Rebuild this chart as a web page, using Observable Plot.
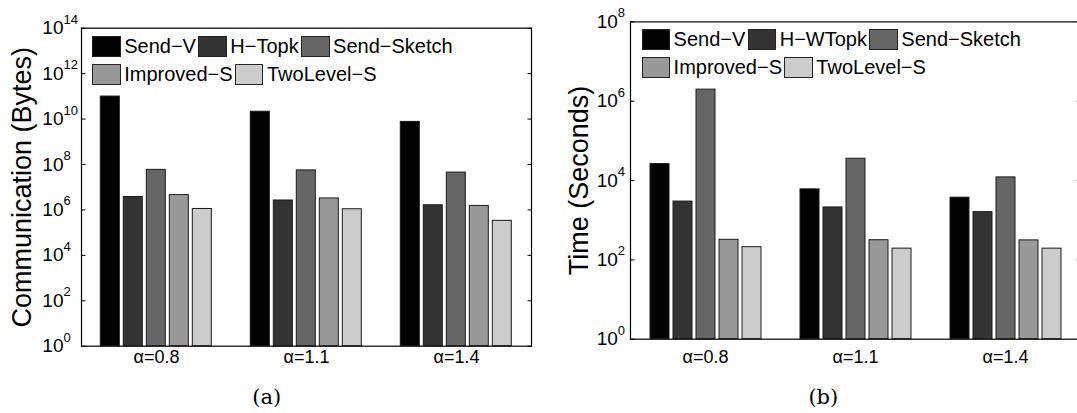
<!DOCTYPE html>
<html><head><meta charset="utf-8">
<script src="https://cdn.jsdelivr.net/npm/d3@7"></script>
<script src="https://cdn.jsdelivr.net/npm/@observablehq/plot@0.6"></script>
<style>
body{margin:0;background:#fff;overflow:hidden;}
#fig{position:relative;width:1077px;height:413px;overflow:hidden;font-family:"Liberation Sans",Arial,sans-serif;background:#fff;}
.panel{position:absolute;top:0;}
.panel svg{max-width:none !important;}
.legend{position:absolute;font-size:20px;color:#000;}
.row{display:flex;align-items:center;height:28px;white-space:nowrap;}
.sw{width:28.4px;height:21.3px;box-sizing:border-box;border:1px solid #222;margin-right:3.5px;flex:none;}
.lbl{margin-right:2.5px;line-height:21px;}
.cap{position:absolute;font-family:"DejaVu Serif",serif;font-size:21px;line-height:1;transform:translateX(-50%);white-space:nowrap;}
</style></head><body><div id="fig"></div>
<script>
// ---- data ----
const groups = ["α=0.8", "α=1.1", "α=1.4"];
const methodsA = ["Send−V", "H−Topk", "Send−Sketch", "Improved−S", "TwoLevel−S"];
const methodsB = ["Send−V", "H−WTopk", "Send−Sketch", "Improved−S", "TwoLevel−S"];
const grays = ["#000000", "#333333", "#666666", "#999999", "#cccccc"];

// (a) Communication (Bytes), one value per group
const commSendV      = [9.8e10, 2.1e10, 7.5e9];
const commHTopk      = [3.7e6, 2.6e6, 1.6e6];
const commSendSketch = [5.8e7, 5.5e7, 4.4e7];
const commImproved   = [4.5e6, 3.2e6, 1.5e6];
const commTwoLevel   = [1.1e6, 1.07e6, 3.3e5];

// (b) Time (Seconds)
const timeSendV      = [2.6e4, 6.0e3, 3.7e3];
const timeHWTopk     = [2.95e3, 2.1e3, 1.6e3];
const timeSendSketch = [1.96e6, 3.55e4, 1.2e4];
const timeImproved   = [321, 313, 310];
const timeTwoLevel   = [209, 192, 192];

// tick labels (exponents of 10)
const expA = [0, 2, 4, 6, 8, 10, 12, 14];
const expB = [0, 2, 4, 6, 8];

function rows(methods, series) {
  const out = [];
  groups.forEach((g, gi) => methods.forEach((m, mi) => out.push({g, m, v: series[mi][gi]})));
  return out;
}
const dataA = rows(methodsA, [commSendV, commHTopk, commSendSketch, commImproved, commTwoLevel]);
const dataB = rows(methodsB, [timeSendV, timeHWTopk, timeSendSketch, timeImproved, timeTwoLevel]);

function makePlot(cfg) {
  const yt = cfg.exps.map(e => 10 ** e);
  return Plot.plot({
    width: cfg.width, height: cfg.height,
    marginLeft: cfg.ml, marginRight: cfg.mr, marginTop: cfg.mt, marginBottom: cfg.mb,
    style: {fontFamily: "'Liberation Sans', Arial, sans-serif", background: "transparent", color: "#000", overflow: "visible", maxWidth: "none"},
    fx: {domain: groups, padding: 0, axis: null, label: null},
    x: {domain: cfg.methods, paddingInner: 0.194, paddingOuter: 0.812, axis: null},
    y: {type: "log", domain: [1, yt[yt.length - 1]], axis: null},
    color: {domain: cfg.methods, range: grays},
    marks: [
      Plot.barY(cfg.data, {fx: "g", x: "m", y1: 1, y2: "v", fill: "m", stroke: "#1a1a1a", strokeWidth: 1}),
      Plot.frame({facet: "super", stroke: "#000", strokeWidth: 1.2}),
      Plot.axisY(yt, {anchor: "left", tickSize: -4.5, tickFormat: () => "", label: null}),
      Plot.axisY(yt, {anchor: "right", tickSize: -4.5, tickFormat: () => "", label: null}),
      Plot.axisY(yt, {anchor: "left", tickSize: 0, tickPadding: cfg.tp, tickFormat: () => "10", fontSize: 19, label: null}),
      Plot.axisY(yt, {anchor: "left", tickSize: 0, tickPadding: cfg.tp, textAnchor: "start", dy: -8.7,
                      tickFormat: d => String(Math.round(Math.log10(d))), fontSize: 13, label: null}),
      Plot.axisY([], {anchor: "left", tickSize: 0, label: cfg.ylabel, labelAnchor: "center", labelArrow: "none",
                      labelOffset: cfg.lo, fontSize: 27}),
      Plot.axisFx({anchor: "bottom", tickSize: 0, tickPadding: cfg.xp, fontSize: 18, label: null})
    ]
  });
}

const fig = document.getElementById("fig");

function addPanel(left, cfg, legendPos, cap, capX) {
  const div = document.createElement("div");
  div.className = "panel";
  div.style.left = left + "px";
  div.style.width = cfg.width + "px";
  div.appendChild(makePlot(cfg));
  fig.appendChild(div);
  // legend inside the axes (two rows: 3 + 2)
  const lg = document.createElement("div");
  lg.className = "legend";
  lg.style.left = legendPos[0] + "px";
  lg.style.top = legendPos[1] + "px";
  [cfg.methods.slice(0, 3), cfg.methods.slice(3)].forEach((ms, r) => {
    const row = document.createElement("div");
    row.className = "row";
    ms.forEach((m, i) => {
      const sw = document.createElement("div");
      sw.className = "sw";
      sw.style.background = grays[r * 3 + i];
      const t = document.createElement("span");
      t.className = "lbl";
      t.textContent = m;
      row.appendChild(sw); row.appendChild(t);
    });
    lg.appendChild(row);
  });
  fig.appendChild(lg);
  const c = document.createElement("div");
  c.className = "cap";
  c.textContent = cap;
  c.style.left = capX + "px";
  c.style.top = "387px";
  fig.appendChild(c);
}

addPanel(0, {width: 539, height: 376, ml: 80.7, mr: 8, mt: 27.7, mb: 30.3, exps: expA, methods: methodsA, data: dataA,
             tp: 18, xp: 4.3, lo: 70, ylabel: "Communication (Bytes)"}, [92.3, 32.5], "(a)", 266.7);
addPanel(540, {width: 548, height: 376, ml: 90, mr: 8, mt: 21.4, mb: 37.3, exps: expB, methods: methodsB, data: dataB,
             tp: 12.7, xp: 11, lo: 62, ylabel: "Time (Seconds)"}, [641.7, 25.8], "(b)", 823.3);
</script></body></html>
